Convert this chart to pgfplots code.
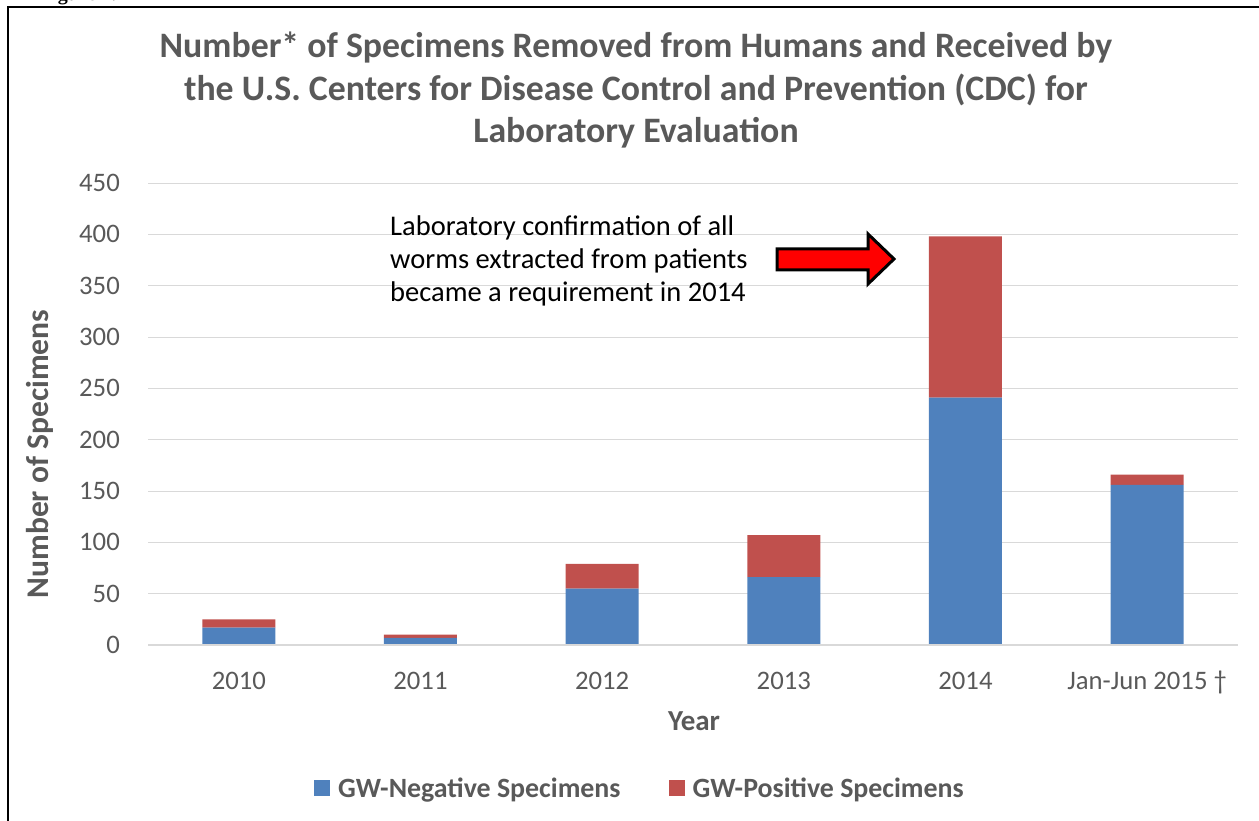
\documentclass[border=0pt]{standalone}
\usepackage{fontspec}
\setmainfont{Carlito}
\newfontfamily\timesfont{Liberation Serif}
\usepackage{pgfplots}
\pgfplotsset{compat=1.18}
\definecolor{txtgray}{HTML}{595959}
\definecolor{gwblue}{HTML}{4F81BD}
\definecolor{gwred}{HTML}{C0504D}
\definecolor{gridgray}{HTML}{D9D9D9}
\begin{document}
\begin{tikzpicture}[x=1pt,y=1pt]
\useasboundingbox (0,0) rectangle (1259,820);
% frame
\draw[black, line width=1.5pt] (8,-20) -- (8,813) -- (1280,813);
\node[anchor=base west, inner sep=0pt, font=\timesfont\bfseries\fontsize{20}{24}\selectfont] at (40,819) {Figure 1.};
\begin{axis}[
  at={(148pt,175pt)}, anchor=south west,
  scale only axis, width=1090pt, height=462pt,
  xmin=-0.5, xmax=5.5, ymin=0, ymax=450,
  ybar stacked, bar width=73pt,
  axis line style={draw=none},
  ymajorgrids, grid style={gridgray, line width=1pt},
  xtick={0,1,2,3,4,5},
  xticklabels={2010,2011,2012,2013,2014,{Jan-Jun 2015 †}},
  ytick={0,50,...,450},
  major tick length=0pt,
  tick label style={font=\fontsize{26.7}{32}\selectfont, text=txtgray},
  /pgf/number format/assume math mode=true,
  yticklabel style={anchor=east, inner sep=0pt, xshift=-28pt},
  xticklabel style={anchor=base, inner sep=0pt, yshift=-44pt},
  legend style={at={(0.4505,-0.3095)}, anchor=center, draw=none, fill=none,
    font=\bfseries\fontsize{27.9}{33}\selectfont, text=txtgray,
    nodes={inner sep=0pt},
    /tikz/every even column/.append style={column sep=48pt}},
  legend columns=2,
  legend image code/.code={\fill[#1] (0pt,-8pt) rectangle (16pt,8pt); \path (24pt,0pt);},
]
\draw[gridgray, line width=1.5pt] (axis cs:-0.5,0) -- (axis cs:5.5,0);
\addplot[fill=gwblue, draw=none] coordinates {(0,17) (1,7) (2,55) (3,66) (4,241) (5,156)};
\addplot[fill=gwred, draw=none] coordinates {(0,8) (1,3) (2,24) (3,41) (4,157) (5,10)};
\legend{GW-Negative Specimens, GW-Positive Specimens}
\end{axis}
% title
\begin{scope}[every node/.style={anchor=base, inner sep=0pt, text=txtgray, font=\bfseries\fontsize{35.8}{43}\selectfont}]
\node at (636,762) {Number* of Specimens Removed from Humans and Received by};
\node at (636,719) {the U.S. Centers for Disease Control and Prevention (CDC) for};
\node at (636,677) {Laboratory Evaluation};
\end{scope}
% axis titles
\node[rotate=90, inner sep=0pt, text=txtgray, font=\bfseries\fontsize{31.6}{38}\selectfont] at (40,366) {Number of Specimens};
\node[anchor=base, inner sep=0pt, text=txtgray, font=\bfseries\fontsize{29}{34}\selectfont] at (694,89) {Year};
% annotation
\begin{scope}[every node/.style={anchor=base west, inner sep=0pt, text=black, font=\fontsize{28.5}{33}\selectfont}]
\node at (390,584) {Laboratory confirmation of all};
\node at (390,551) {worms extracted from patients};
\node at (390,518) {became a requirement in 2014};
\end{scope}
\filldraw[fill=red, draw=black, line width=3pt, line join=miter]
  (777,571) -- (868,571) -- (868,586) -- (894,561) -- (868,536) -- (868,550) -- (777,550) -- cycle;
\end{tikzpicture}
\end{document}
